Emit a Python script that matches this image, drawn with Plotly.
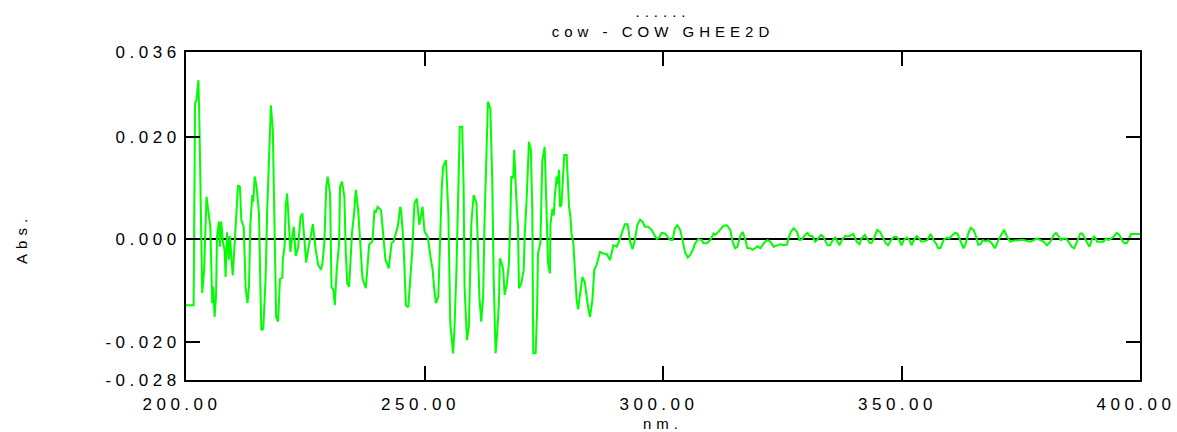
import plotly.graph_objects as go

# wavelength (nm) and absorbance
wavelength = [
    200.0, 201.6, 201.9, 202.2, 202.6, 202.8, 203.4, 203.8, 204.3, 205.1,
    205.5, 205.7, 206.0, 206.3, 206.5, 206.9, 207.1, 207.4, 207.7, 208.1,
    208.3, 208.6, 209.0, 209.2, 209.5, 209.8, 210.2, 210.5, 210.9, 211.3,
    211.6, 212.1, 212.5, 212.9, 213.2, 213.5, 213.9, 214.1, 214.4, 214.8,
    215.3, 215.6, 215.8, 216.2, 216.7, 217.0, 217.4, 217.8, 218.2, 218.6,
    218.9, 219.3, 219.7, 220.2, 220.3, 220.7, 220.9, 221.2, 221.6, 221.9,
    222.3, 222.6, 223.0, 223.5, 224.0, 224.4, 224.7, 225.2, 225.6, 226.1,
    226.6, 227.2, 227.7,
    228.3, 228.6, 229.0, 229.4, 229.7, 230.2, 230.5, 230.9, 231.2, 231.6,
    232.1, 232.3, 232.7, 233.2, 233.5, 233.8, 234.2, 234.4, 234.8, 235.2,
    235.6, 236.1, 236.7, 237.0, 237.7, 238.1, 238.4, 239.1, 239.5, 239.8,
    240.2, 240.9, 241.4, 241.8, 242.5, 242.8, 243.1, 243.5, 244.0, 244.4,
    244.9, 245.1, 245.6, 246.1, 246.6, 247.0, 247.4, 247.9, 248.4, 248.9,
    249.3, 249.6, 250.0, 250.7, 251.2, 251.7, 252.1, 252.4, 252.9, 253.3,
    253.6, 253.9, 254.5, 255.0, 255.4,
    256.0, 256.3, 256.7, 257.0, 257.4, 257.9, 258.2, 258.4, 258.9, 259.3,
    259.6, 259.8, 260.3, 260.9, 261.2, 261.5, 261.9, 262.3, 262.6, 263.0,
    263.3, 263.8, 264.2, 264.5, 264.9, 265.2, 265.6, 265.8, 266.1, 266.5,
    266.8, 267.3, 267.7, 268.0, 268.2, 268.6, 268.8, 269.3, 269.6, 269.8,
    270.3, 270.8, 271.0, 271.4, 271.9, 272.3, 272.6, 272.8, 273.3, 273.6,
    273.8, 274.3, 274.7, 275.2, 275.6, 275.9, 276.3, 276.4, 276.8, 277.1,
    277.3, 277.7, 277.9, 278.2, 278.4, 278.7, 278.9, 279.3, 279.8, 280.1,
    280.3, 280.6, 280.8, 281.2, 281.5, 281.9, 282.2, 282.6, 283.1, 283.6,
    284.0, 284.3, 284.7, 285.2, 285.6, 286.1, 286.8,
    287.5, 288.2, 288.9, 289.6, 290.3, 291.0, 291.7, 292.0, 292.6, 293.1,
    293.6, 294.1, 294.6, 295.2, 295.7, 296.2, 296.9, 297.6, 298.2, 298.7,
    299.2, 299.7, 300.4, 300.9, 301.5, 302.0, 302.5, 303.0, 303.6, 304.1,
    304.6, 305.2, 305.7, 306.4, 306.7, 307.4, 308.1, 308.5, 309.2, 309.9,
    310.6, 310.9, 311.6, 312.7, 313.4, 314.1, 314.6, 315.1, 315.6, 316.2,
    316.7, 317.2, 317.7, 318.3, 318.8, 319.3, 319.8, 320.4, 320.9, 321.4,
    321.9, 322.5, 323.2, 323.9, 324.6, 325.3, 326.0, 326.3, 326.8, 327.4,
    328.1, 328.6, 329.1, 329.8, 330.3, 330.8, 331.3, 331.9, 332.4, 333.1,
    333.6, 334.1, 334.5, 335.0, 335.6, 336.1, 336.6, 337.0, 337.5, 338.2,
    338.9,
    339.9, 340.6, 341.2, 341.6, 342.3, 342.8, 343.3, 343.7, 344.2, 344.9,
    345.5, 346.2, 346.7, 347.2, 347.8, 348.4, 349.0, 349.5, 350.0, 350.5,
    351.1, 351.6, 352.1, 352.6, 353.2, 353.7, 354.2, 354.8, 355.4, 356.1,
    356.7, 357.2, 357.7, 358.2, 358.8, 359.5, 360.0, 360.5, 361.2, 361.7,
    362.3, 363.0, 363.5, 364.0, 364.5, 365.1, 365.6, 366.1, 366.6, 367.0,
    367.7, 368.2, 368.9, 369.6, 370.3, 371.0, 371.5, 372.1, 372.8, 373.5,
    374.2, 374.9, 375.6, 376.3, 377.0, 377.7, 378.4, 379.1, 379.8, 380.5,
    381.2, 381.9, 382.4, 382.9, 383.4, 384.0, 384.5, 385.0, 385.7, 386.2,
    386.8, 387.5, 387.9, 388.5, 389.0, 389.4, 389.9, 390.4, 391.0, 391.7,
    392.3, 392.9, 393.4, 393.9, 394.4, 395.1, 395.7, 396.2, 396.7, 397.2,
    397.7, 398.1, 398.6, 400.0,
]

absorbance = [
    -0.0129, -0.0129, 0.0265, 0.0271, 0.0310, 0.0232, -0.0105, -0.0060, 0.0083, 0.0024,
    -0.0125, -0.0093, -0.0152, -0.0110, 0.0004, 0.0034, -0.0015, 0.0034, -0.0003, -0.0023,
    -0.0074, 0.0013, -0.0040, 0.0006, -0.0033, -0.0071, -0.0009, 0.0050, 0.0105, 0.0102,
    0.0037, 0.0024, -0.0096, -0.0125, -0.0093, 0.0029, 0.0086, 0.0073, 0.0122, 0.0102,
    0.0050, -0.0093, -0.0178, -0.0175, -0.0074, 0.0050, 0.0141, 0.0261, 0.0213, 0.0024,
    -0.0152, -0.0161, -0.0078, -0.0075, -0.0040, -0.0011, 0.0063, 0.0089, 0.0024, -0.0025,
    0.0006, 0.0024, -0.0033, -0.0017, 0.0043, 0.0050, 0.0013, -0.0046, -0.0021, 0.0006,
    0.0029, -0.0021, -0.0050,
    -0.0060, -0.0047, -0.0008, 0.0102, 0.0122, 0.0089, -0.0093, -0.0100, -0.0129, -0.0060,
    -0.0008, 0.0102, 0.0112, 0.0083, -0.0027, -0.0086, -0.0093, -0.0047, 0.0013, 0.0046,
    0.0096, 0.0056, -0.0027, -0.0077, -0.0096, -0.0047, -0.0011, -0.0004, 0.0056, 0.0053,
    0.0063, 0.0056, 0.0004, -0.0040, -0.0057, -0.0027, -0.0008, -0.0005, 0.0015, 0.0025,
    0.0063, 0.0056, -0.0008, -0.0129, -0.0133, -0.0074, -0.0027, 0.0070, 0.0079, 0.0028,
    0.0048, 0.0063, 0.0015, 0.0004, -0.0031, -0.0060, -0.0103, -0.0125, -0.0112, 0.0037,
    0.0096, 0.0141, 0.0154, 0.0050, -0.0165,
    -0.0223, -0.0171, -0.0060, 0.0056, 0.0219, 0.0219, 0.0102, -0.0093, -0.0197, -0.0171,
    -0.0047, 0.0028, 0.0086, 0.0070, -0.0015, -0.0112, -0.0161, -0.0112, 0.0040, 0.0180,
    0.0268, 0.0255, 0.0115, -0.0074, -0.0223, -0.0190, -0.0125, -0.0038, -0.0044, -0.0060,
    -0.0109, -0.0086, -0.0047, 0.0040, 0.0122, 0.0119, 0.0174, 0.0070, 0.0024, -0.0096,
    -0.0086, -0.0060, 0.0005, 0.0076, 0.0190, 0.0174, 0.0056, -0.0223, -0.0223, -0.0140,
    -0.0027, -0.0008, 0.0154, 0.0180, 0.0024, -0.0047, -0.0067, 0.0028, 0.0059, 0.0046,
    0.0081, 0.0122, 0.0107, 0.0135, 0.0063, 0.0066, 0.0099, 0.0164, 0.0164, 0.0115,
    0.0063, 0.0044, 0.0012, -0.0008, -0.0067, -0.0119, -0.0137, -0.0112, -0.0074, -0.0084,
    -0.0119, -0.0133, -0.0152, -0.0119, -0.0060, -0.0050, -0.0025,
    -0.0028, -0.0029, -0.0041, -0.0012, -0.0015, 0.0001, 0.0024, 0.0029, 0.0029, -0.0005,
    -0.0020, -0.0002, 0.0027, 0.0038, 0.0034, 0.0024, 0.0024, 0.0018, 0.0008, 0.0000,
    0.0003, 0.0012, 0.0011, 0.0004, -0.0002, -0.0002, 0.0021, 0.0027, 0.0018, -0.0002,
    -0.0025, -0.0036, -0.0031, -0.0018, -0.0009, 0.0000, -0.0002, -0.0008, -0.0008, -0.0002,
    0.0011, 0.0008, 0.0014, 0.0026, 0.0027, 0.0018, -0.0005, -0.0018, -0.0015, 0.0006,
    0.0014, 0.0001, -0.0018, -0.0018, -0.0021, -0.0018, -0.0014, -0.0018, -0.0012, -0.0005,
    -0.0002, -0.0005, -0.0015, -0.0012, -0.0010, -0.0012, -0.0011, 0.0001, 0.0014, 0.0021,
    0.0014, -0.0002, -0.0001, 0.0008, 0.0012, 0.0006, 0.0006, -0.0005, -0.0001, 0.0008,
    0.0005, -0.0005, -0.0012, -0.0012, -0.0002, 0.0003, -0.0005, -0.0012, -0.0002, 0.0006,
    0.0005,
    0.0010, -0.0005, -0.0010, 0.0001, 0.0008, 0.0001, -0.0007, -0.0008, 0.0001, 0.0018,
    0.0014, 0.0001, -0.0008, -0.0012, -0.0002, 0.0004, 0.0004, -0.0002, -0.0012, -0.0002,
    0.0003, -0.0001, -0.0012, -0.0002, 0.0006, 0.0001, -0.0005, -0.0004, -0.0002, 0.0010,
    -0.0002, -0.0008, -0.0018, -0.0017, -0.0002, 0.0003, 0.0001, 0.0006, 0.0012, 0.0011,
    -0.0002, -0.0018, -0.0008, 0.0011, 0.0022, 0.0018, 0.0006, -0.0011, -0.0010, -0.0002,
    -0.0004, -0.0002, -0.0008, -0.0018, -0.0002, 0.0011, 0.0018, 0.0005, -0.0005, -0.0003,
    -0.0002, -0.0002, -0.0002, -0.0004, -0.0005, -0.0002, 0.0001, -0.0002, -0.0005, -0.0012,
    -0.0005, 0.0008, 0.0012, 0.0006, -0.0002, 0.0001, 0.0001, -0.0005, -0.0015, -0.0018,
    -0.0005, 0.0011, 0.0011, 0.0001, -0.0008, -0.0015, -0.0002, 0.0006, -0.0005, -0.0005,
    -0.0005, 0.0001, -0.0002, 0.0001, 0.0004, 0.0012, 0.0008, -0.0002, -0.0008, -0.0008,
    0.0000, 0.0010, 0.0010, 0.0010,
]

y_tickvals = [-0.0275, -0.020, 0.0, 0.020, 0.0365]
y_ticktext = ["-0.028", "-0.020", "0.000", "0.020", "0.036"]
x_tickvals = [200, 250, 300, 350, 400]
x_ticktext = ["200.00", "250.00", "300.00", "350.00", "400.00"]

FONT = "Liberation Sans, Arial, sans-serif"

fig = go.Figure()
fig.add_trace(go.Scatter(
    x=wavelength, y=absorbance, mode="lines",
    line=dict(color="#00ff00", width=2),
    showlegend=False, hoverinfo="x+y",
))

fig.update_layout(
    width=1177, height=432,
    margin=dict(l=186, r=37, t=52, b=52, autoexpand=False),
    paper_bgcolor="white", plot_bgcolor="white",
    font=dict(family=FONT, color="black", size=15),
    title=dict(
        text="......<br>cow - COW GHEE2D",
        x=0.5, xref="paper", xanchor="center",
        y=0.960, yref="container", yanchor="top",
        font=dict(family=FONT, size=15, color="black"),
    ),
    annotations=[dict(
        text="Abs.", textangle=-90, showarrow=False,
        xref="paper", yref="paper", x=0, y=0.43,
        xanchor="center", yanchor="middle", xshift=-164,
        font=dict(family=FONT, size=15, color="black"),
    )],
)

fig.update_xaxes(
    range=[200, 400], tickvals=x_tickvals, ticktext=x_ticktext,
    automargin=False,
    showgrid=False, zeroline=False,
    showline=True, linecolor="black", linewidth=2, mirror="ticks",
    ticks="inside", ticklen=14, tickwidth=2, tickcolor="black",
    tickfont=dict(family=FONT, size=17, color="black"),
    ticklabelstandoff=8, ticklabelshift=-4,
    title=dict(text="nm.", font=dict(family=FONT, size=15), standoff=10),
)
fig.update_yaxes(
    range=[-0.0275, 0.0365], tickvals=y_tickvals, ticktext=y_ticktext,
    automargin=False,
    showgrid=False,
    zeroline=True, zerolinecolor="black", zerolinewidth=2,
    showline=True, linecolor="black", linewidth=2, mirror="ticks",
    ticks="inside", ticklen=14, tickwidth=2, tickcolor="black",
    tickfont=dict(family=FONT, size=17, color="black"),
    ticklabelstandoff=0,
)

post = """
document.body.style.margin = '0';
var gd = document.getElementById('{plot_id}');
function ls(){
  gd.querySelectorAll('.xtick text, .ytick text').forEach(function(t){
    t.style.letterSpacing = '4.5px';
  });
  gd.querySelectorAll('.gtitle, .xtitle, .annotation-text').forEach(function(t){
    t.style.letterSpacing = '5px';
  });
}
ls();
if (gd.on) { gd.on('plotly_afterplot', ls); }
"""

fig.write_html("out.html", post_script=post, config={"displayModeBar": False})
